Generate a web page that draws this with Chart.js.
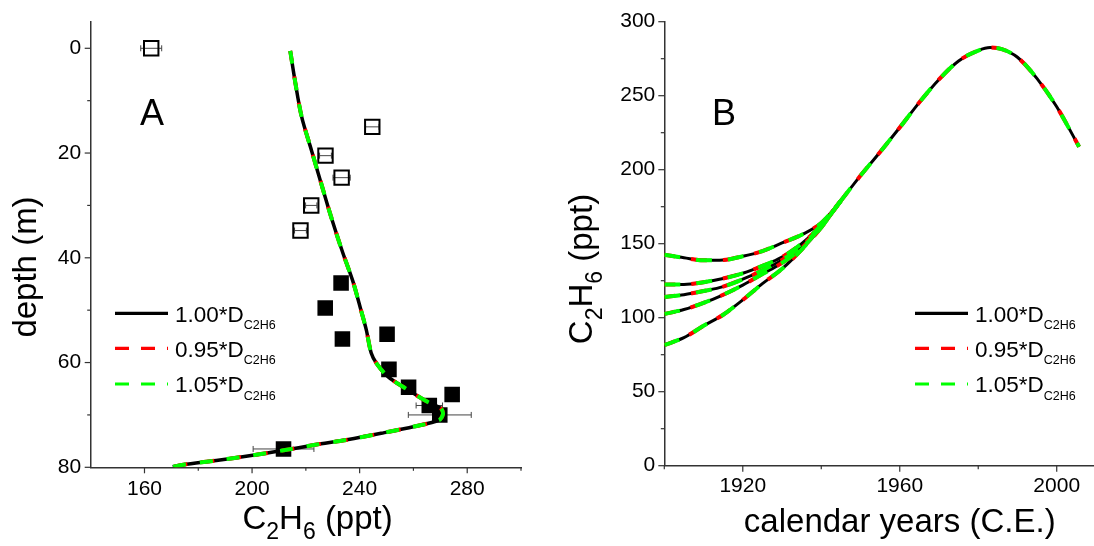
<!DOCTYPE html>
<html><head><meta charset="utf-8">
<script src="https://cdn.jsdelivr.net/npm/chart.js@4.4.0/dist/chart.umd.min.js"></script>
<style>
html,body{margin:0;padding:0;background:#fff;overflow:hidden;width:1094px;height:546px;position:relative;}
#ca{position:absolute;left:0;top:0;}
#cb{position:absolute;left:540px;top:0;}
</style></head><body>
<canvas id="ca" width="540" height="546"></canvas>
<canvas id="cb" width="600" height="546"></canvas>
<script>
// ---------- Panel A data ----------
const A_OPEN_X      = [162.5, 244.7, 227.3, 233.3, 222.0, 218.0];
const A_OPEN_DEPTH  = [0, 15, 20.5, 24.7, 30, 34.8];
const A_OPEN_ERR    = [3.9, 2.5, 2.2, 3.2, 2.1, 2.2];
const A_FILLED_X     = [233.1, 227.2, 233.6, 250.2, 250.9, 258.2, 265.9, 269.8, 274.4, 211.7];
const A_FILLED_DEPTH = [44.8, 49.6, 55.5, 54.6, 61.3, 64.7, 68.2, 70.0, 66.1, 76.5];
const A_FILLED_ERR   = [0, 0, 0, 0, 0, 0, 4.9, 11.7, 0, 11.3];
const A_MODEL_X     = [214.2, 215.9, 218.4, 222.1, 225.7, 229.4, 233.7, 237.5, 240.5, 242.5, 244.3, 246.2, 250.5, 257.9, 265.2, 270.1, 271.0, 269.5, 260.3, 248.0, 235.8, 223.5, 211.2, 199.0, 186.7, 174.4, 170.5];
const A_MODEL_DEPTH = [0.5, 6, 13, 19.5, 25.8, 32.2, 39, 44.5, 50, 53.8, 58.2, 60.1, 62.7, 65.2, 67.5, 68.7, 69.8, 71.0, 72.2, 73.5, 74.7, 75.7, 76.8, 77.8, 78.7, 79.5, 79.9];
const A_X_MAJOR = [160, 200, 240, 280];
const A_X_MINOR = [180, 220, 260, 300];
const A_Y_MAJOR = [0, 20, 40, 60, 80];
const A_Y_MINOR = [10, 30, 50, 70];

// ---------- Panel B data ----------
const B_YEARS_EARLY = [1900, 1905, 1910, 1915, 1920, 1925, 1930, 1935, 1940, 1945];
const B_BRANCH_1 = [142.5, 140.5, 138.8, 139, 141.5, 145, 150.5, 156, 164, 179];
const B_BRANCH_2 = [122.5, 122.5, 124, 126.5, 130, 135, 141, 150, 162.5, 179];
const B_BRANCH_3 = [114, 115.5, 118, 121, 126, 132, 139, 148.5, 162, 179];
const B_BRANCH_4 = [102.5, 105.5, 110, 115.5, 122, 129.5, 137, 147, 161.5, 179];
const B_BRANCH_5 = [81.5, 86.5, 94.5, 102, 112, 123, 133, 146, 161, 179];
const B_YEARS_LATE = [1945, 1950, 1955, 1960, 1965, 1970, 1975, 1980, 1983, 1986, 1990, 1995, 2000, 2005.7];
const B_LATE       = [179, 196, 212, 228.5, 245.5, 261, 273.5, 280.5, 282.5, 281.5, 276, 261.5, 242.5, 215.5];
const B_X_MAJOR = [1920, 1960, 2000];
const B_X_MINOR = [1900, 1940, 1980, 2020];
const B_Y_MAJOR = [0, 50, 100, 150, 200, 250, 300];
const B_Y_MINOR = [25, 75, 125, 175, 225, 275];

const LEGEND_MAIN = ['1.00*D', '0.95*D', '1.05*D'];
const LEGEND_SUB = 'C2H6';

// ---------- helpers ----------
const FONT = '"Liberation Sans", Arial, Helvetica, sans-serif';
Chart.defaults.font.family = FONT;
Chart.defaults.color = '#000';
const pts = (xs, ys) => xs.map((x, i) => ({x: x, y: ys[i]}));
const VARIANTS = [
  {color: '#00ff00', dash: true, order: 0},
  {color: '#ff0000', dash: true, order: 1},
  {color: '#000000', dash: false, order: 2}
];

function tickMarks(chart, id, major, minor) {
  const s = chart.scales[id], ctx = chart.ctx, a = chart.chartArea;
  ctx.save(); ctx.strokeStyle = '#333'; ctx.lineWidth = 1.2;
  const d = (v, len) => {
    const p = s.getPixelForValue(v);
    ctx.beginPath();
    if (s.isHorizontal()) { ctx.moveTo(p, a.bottom); ctx.lineTo(p, a.bottom + len); }
    else { ctx.moveTo(a.left, p); ctx.lineTo(a.left - len, p); }
    ctx.stroke();
  };
  major.forEach(v => d(v, 6)); minor.forEach(v => d(v, 3.5));
  ctx.restore();
}
function richText(ctx, parts, x, y, align) {
  let w = 0;
  parts.forEach(p => { ctx.font = p[1] + 'px ' + FONT; w += ctx.measureText(p[0]).width; });
  let cx = align === 'center' ? x - w / 2 : x;
  ctx.textAlign = 'left'; ctx.textBaseline = 'alphabetic';
  parts.forEach(p => { ctx.font = p[1] + 'px ' + FONT; ctx.fillText(p[0], cx, y + p[2]); cx += ctx.measureText(p[0]).width; });
}
function drawLegend(ctx, lx, rows) {
  const styles = [{c: '#000', d: []}, {c: '#ff0000', d: [14, 12]}, {c: '#00ff00', d: [14, 12]}];
  ctx.save();
  rows.forEach((ry, i) => {
    ctx.strokeStyle = styles[i].c; ctx.lineWidth = 3.2; ctx.setLineDash(styles[i].d);
    ctx.beginPath(); ctx.moveTo(lx, ry); ctx.lineTo(lx + 53, ry); ctx.stroke();
    ctx.setLineDash([]); ctx.fillStyle = '#000';
    richText(ctx, [[LEGEND_MAIN[i], 22.5, 0], [LEGEND_SUB, 12.5, 7.6]], lx + 60, ry + 8.4, 'left');
  });
  ctx.restore();
}
function axisCfg(min, max, major, minor, fitKey, fitVal, pad, extra) {
  return Object.assign({
    type: 'linear', min: min, max: max,
    grid: {display: false, drawTicks: true, tickLength: 6},
    border: {display: true, color: '#333', width: 1.5},
    ticks: {font: {size: 21}, color: '#000', padding: pad, autoSkip: false, maxRotation: 0,
      callback: v => major.includes(v) ? String(v) : ''},
    afterBuildTicks: s => { s.ticks = major.concat(minor).sort((p, q) => p - q).map(v => ({value: v})); },
    afterFit: s => { s[fitKey] = fitVal; }
  }, extra || {});
}

// ---------- Panel A ----------
const modelA = pts(A_MODEL_X, A_MODEL_DEPTH);
const dsA = VARIANTS.map(v => ({
  data: modelA, showLine: true, pointRadius: 0, tension: 0.3,
  borderColor: v.color, borderWidth: v.dash ? 4 : 3.5,
  borderDash: v.dash ? [13, 14] : [], borderDashOffset: v.color === '#ff0000' ? 1.5 : 0,
  order: v.order
}));
dsA.push({data: pts(A_FILLED_X, A_FILLED_DEPTH), pointStyle: 'rect', pointRadius: 11,
  backgroundColor: '#000', borderColor: '#000', borderWidth: 0, order: 3});
dsA.push({data: pts(A_OPEN_X, A_OPEN_DEPTH), pointStyle: 'rect', pointRadius: 10.2,
  backgroundColor: 'rgba(255,255,255,0)', borderColor: '#000', borderWidth: 2, order: 4});

const pluginA = {
  id: 'decorA',
  beforeDatasetsDraw(chart) {
    const ctx = chart.ctx, xs = chart.scales.x, ys = chart.scales.y;
    ctx.save(); ctx.strokeStyle = '#444'; ctx.lineWidth = 1;
    const bar = (x, d, e) => {
      if (!e) return;
      const y = ys.getPixelForValue(d), x1 = xs.getPixelForValue(x - e), x2 = xs.getPixelForValue(x + e);
      ctx.beginPath(); ctx.moveTo(x1, y); ctx.lineTo(x2, y);
      ctx.moveTo(x1, y - 3); ctx.lineTo(x1, y + 3); ctx.moveTo(x2, y - 3); ctx.lineTo(x2, y + 3); ctx.stroke();
    };
    A_OPEN_X.forEach((x, i) => bar(x, A_OPEN_DEPTH[i], A_OPEN_ERR[i]));
    A_FILLED_X.forEach((x, i) => bar(x, A_FILLED_DEPTH[i], A_FILLED_ERR[i]));
    ctx.restore();
  },
  afterDraw(chart) {
    const ctx = chart.ctx;
    tickMarks(chart, 'x', A_X_MAJOR, A_X_MINOR);
    tickMarks(chart, 'y', A_Y_MAJOR, A_Y_MINOR);
    ctx.save(); ctx.fillStyle = '#000';
    ctx.font = '36px ' + FONT; ctx.textAlign = 'center'; ctx.textBaseline = 'alphabetic';
    ctx.fillText('A', 152, 125);
    richText(ctx, [['C', 33, 0], ['2', 23, 10], ['H', 33, 0], ['6', 23, 10], [' (ppt)', 33, 0]], 317.6, 529, 'center');
    ctx.save(); ctx.translate(36, 267); ctx.rotate(-Math.PI / 2);
    ctx.font = '33px ' + FONT; ctx.textAlign = 'center'; ctx.fillText('depth (m)', 0, 0);
    ctx.restore();
    drawLegend(ctx, 115, [313.3, 348.3, 384]);
    ctx.restore();
  }
};

new Chart(document.getElementById('ca'), {
  type: 'scatter',
  data: {datasets: dsA},
  options: {
    responsive: false, animation: false, events: [],
    layout: {padding: {top: 22.1, right: 19, left: 0, bottom: 0}},
    plugins: {legend: {display: false}, tooltip: {enabled: false}},
    scales: {
      x: axisCfg(140, 300, A_X_MAJOR, A_X_MINOR, 'height', 78.7, 3.5, {position: 'bottom'}),
      y: axisCfg(-5, 80, A_Y_MAJOR, A_Y_MINOR, 'width', 90.7, 3.5, {position: 'left', reverse: true})
    }
  },
  plugins: [pluginA]
});

// ---------- Panel B ----------
const branches = [B_BRANCH_1, B_BRANCH_2, B_BRANCH_3, B_BRANCH_4, B_BRANCH_5];
const dsB = [];
VARIANTS.forEach(v => {
  const series = branches.map(b => pts(B_YEARS_EARLY, b)).concat([pts(B_YEARS_LATE, B_LATE)]);
  series.forEach(s => dsB.push({
    data: s, showLine: true, pointRadius: 0, cubicInterpolationMode: 'monotone',
    borderColor: v.color, borderWidth: v.dash ? 4 : 3,
    borderDash: v.dash ? [16, 16] : [], borderDashOffset: v.color === '#ff0000' ? 5 : 0,
    order: v.order
  }));
});

const pluginB = {
  id: 'decorB',
  afterDraw(chart) {
    const ctx = chart.ctx, a = chart.chartArea;
    tickMarks(chart, 'x', B_X_MAJOR, B_X_MINOR);
    tickMarks(chart, 'y', B_Y_MAJOR, B_Y_MINOR);
    ctx.save(); ctx.fillStyle = '#000';
    ctx.font = '36px ' + FONT; ctx.textAlign = 'center'; ctx.textBaseline = 'alphabetic';
    ctx.fillText('B', 184, 125);
    ctx.font = '33px ' + FONT;
    ctx.fillText('calendar years (C.E.)', (a.left + a.right) / 2, 531.5);
    ctx.save(); ctx.translate(52, 269); ctx.rotate(-Math.PI / 2);
    richText(ctx, [['C', 33, 0], ['2', 23, 10], ['H', 33, 0], ['6', 23, 10], [' (ppt)', 33, 0]], 0, 0, 'center');
    ctx.restore();
    drawLegend(ctx, 375, [313.3, 348.3, 384]);
    ctx.restore();
  }
};

new Chart(document.getElementById('cb'), {
  type: 'scatter',
  data: {datasets: dsB},
  options: {
    responsive: false, animation: false, events: [],
    layout: {padding: {top: 21.7, right: 4.8, left: 0, bottom: 0}},
    plugins: {legend: {display: false}, tooltip: {enabled: false}},
    scales: {
      x: axisCfg(1900, 2020, B_X_MAJOR, B_X_MINOR, 'height', 80.3, 1.6, {position: 'bottom'}),
      y: axisCfg(0, 300, B_Y_MAJOR, B_Y_MINOR, 'width', 124.3, 3, {position: 'left'})
    }
  },
  plugins: [pluginB]
});
</script>
</body></html>
